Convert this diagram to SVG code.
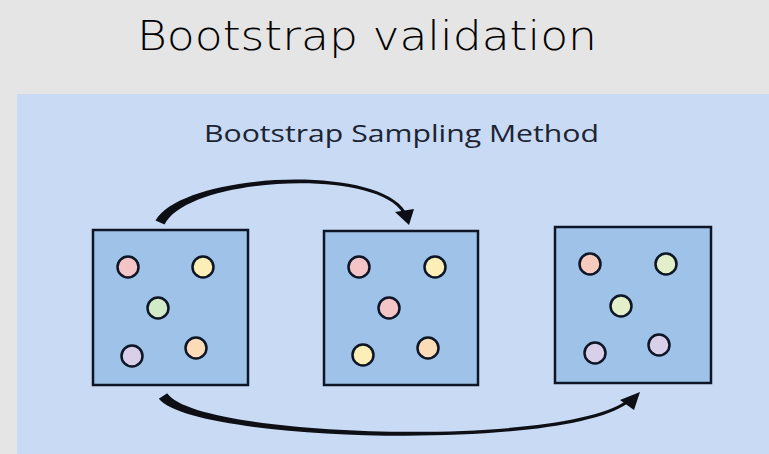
<svg xmlns="http://www.w3.org/2000/svg" width="769" height="454" viewBox="0 0 769 454">
  <style>
    .title { font-family: "DejaVu Sans", "Liberation Sans", sans-serif; font-weight: 200; font-size: 40px; fill: #000; }
    .sub { font-family: "Open Sans", "Liberation Sans", sans-serif; font-size: 24px; fill: #1c2433; }
    .box { fill: #9fc3e8; stroke: #0d1526; stroke-width: 2.5; }
    .dot { stroke: #0d1526; stroke-width: 2.5; }
    .pink { fill: #f4c5c6; }
    .yellow { fill: #fbefb7; }
    .green { fill: #d3eac6; }
    .lav { fill: #dacfe8; }
    .peach { fill: #fbdcb6; }
    .lime { fill: #e2efc8; }
    .arrow { fill: #0d0f14; }
  </style>
  <rect x="0" y="0" width="769" height="454" fill="#e5e5e5"/>
  <rect x="17" y="94" width="752" height="360" fill="#c9daf5"/>
  <text class="title" x="137" y="50" textLength="460" lengthAdjust="spacingAndGlyphs">Bootstrap validation</text>
  <text class="sub" x="204" y="142" textLength="395" lengthAdjust="spacingAndGlyphs">Bootstrap Sampling Method</text>

  <g id="sample-original">
    <rect class="box" x="93" y="230" width="155" height="155"/>
    <circle class="dot pink" cx="128" cy="267" r="10.5"/>
    <circle class="dot yellow" cx="203" cy="267" r="10.5"/>
    <circle class="dot green" cx="158" cy="308" r="10.5"/>
    <circle class="dot lav" cx="132" cy="356" r="10.5"/>
    <circle class="dot peach" cx="196" cy="348" r="10.5"/>
  </g>
  <g id="sample-bootstrap-1">
    <rect class="box" x="324" y="231" width="154" height="154"/>
    <circle class="dot pink" cx="359" cy="267" r="10.5"/>
    <circle class="dot yellow" cx="435" cy="267" r="10.5"/>
    <circle class="dot pink" cx="389" cy="308" r="10.5"/>
    <circle class="dot yellow" cx="363" cy="355" r="10.5"/>
    <circle class="dot peach" cx="428" cy="348" r="10.5"/>
  </g>
  <g id="sample-bootstrap-2">
    <rect class="box" x="555" y="227" width="156" height="156"/>
    <circle class="dot peach" cx="590" cy="264" r="10.5" style="fill:#f6cbbd"/>
    <circle class="dot lime" cx="666" cy="264" r="10.5"/>
    <circle class="dot lime" cx="621" cy="306" r="10.5"/>
    <circle class="dot lav" cx="595" cy="353" r="10.5"/>
    <circle class="dot lav" cx="659" cy="345" r="10.5"/>
  </g>

  <g id="connectors">
    <path class="arrow" d="M155.5,220.5 C183,173 375,163 405.3,211.2 L402.7,212.8 C375,167 188,177 164.5,224.5 Z"/>
    <polygon class="arrow" points="395,212 414,209 409,225"/>
    <path class="arrow" d="M158.8,398.8 C194,442 560,452 627.9,403.2 L626.1,400.8 C560,448 197,438 167.2,393.2 Z"/>
    <polygon class="arrow" points="620,400 640,392 634,410"/>
  </g>
</svg>
